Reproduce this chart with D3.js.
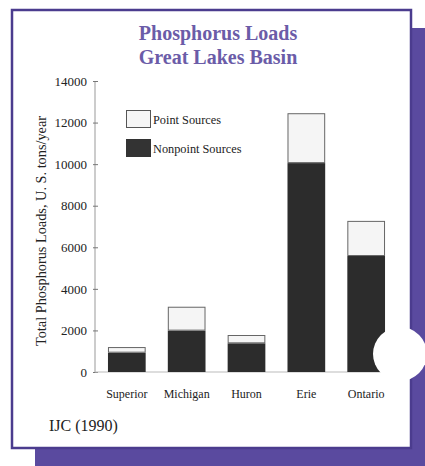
<!DOCTYPE html>
<html>
<head>
<meta charset="utf-8">
<script src="https://cdn.jsdelivr.net/npm/d3@7"></script>
<style>
  body { margin: 0; background: #fff; }
  svg { display: block; }
</style>
</head>
<body>
<svg id="chart" width="425" height="466"></svg>
<script>
  // data (U.S. tons/year)
  var lakes = ["Superior", "Michigan", "Huron", "Erie", "Ontario"];
  var nonpoint = [930, 1990, 1380, 10050, 5580];
  var point = [270, 1150, 400, 2400, 1690];
  var yTicks = [0, 2000, 4000, 6000, 8000, 10000, 12000, 14000];

  var svg = d3.select("#chart"),
      width = +svg.attr("width"),
      height = +svg.attr("height");

  var PURPLE = "#5a4a9f",
      TITLE = "#6b5ca8",
      SERIF = "'Liberation Serif', 'DejaVu Serif', serif";

  // card shadow + panel
  svg.append("rect").attr("x", 35).attr("y", 28).attr("width", 390).attr("height", 438)
      .attr("fill", PURPLE);
  svg.append("rect").attr("x", 12).attr("y", 10).attr("width", 399).attr("height", 438)
      .attr("fill", "#fff").attr("stroke", "#4b3c8e").attr("stroke-width", 2.5);

  // title
  var title = svg.append("text")
      .attr("text-anchor", "middle")
      .attr("font-family", SERIF)
      .attr("font-weight", "bold")
      .attr("font-size", 20)
      .attr("fill", TITLE);
  title.append("tspan").attr("x", 218).attr("y", 40).text("Phosphorus Loads");
  title.append("tspan").attr("x", 218).attr("y", 64).text("Great Lakes Basin");

  var x = d3.scaleBand()
      .domain(lakes)
      .range([96, 397])
      .paddingInner(0.37)
      .paddingOuter(0.2);

  var y = d3.scaleLinear()
      .domain([0, 14000])
      .range([372, 81]);

  var g = svg.append("g");

  // y axis
  var yAxis = g.append("g")
      .attr("transform", "translate(95,0)")
      .call(d3.axisLeft(y).tickValues(yTicks).tickSize(-4).tickPadding(8).tickFormat(d3.format("d")));
  yAxis.select(".domain").attr("stroke", "#999").attr("d", "M0," + y(14000) + "V" + y(0));
  yAxis.selectAll(".tick line").attr("stroke", "#777").attr("x1", -2).attr("x2", 3);
  yAxis.selectAll(".tick text")
      .attr("font-family", SERIF)
      .attr("font-size", 13)
      .attr("fill", "#222");

  // x baseline
  g.append("line")
      .attr("x1", 95).attr("x2", x("Ontario") + x.bandwidth())
      .attr("y1", y(0)).attr("y2", y(0))
      .attr("stroke", "#bbb");

  // bars
  var rows = lakes.map(function(d, i) {
    return { lake: d, nonpoint: nonpoint[i], point: point[i] };
  });

  g.selectAll(".np").data(rows).enter().append("rect")
      .attr("class", "np")
      .attr("x", function(d) { return x(d.lake); })
      .attr("y", function(d) { return y(d.nonpoint); })
      .attr("width", x.bandwidth())
      .attr("height", function(d) { return y(0) - y(d.nonpoint); })
      .attr("fill", "#2c2c2c");

  g.selectAll(".pt").data(rows).enter().append("rect")
      .attr("class", "pt")
      .attr("x", function(d) { return x(d.lake) + 0.5; })
      .attr("y", function(d) { return y(d.nonpoint + d.point) + 0.5; })
      .attr("width", x.bandwidth() - 1)
      .attr("height", function(d) { return y(d.nonpoint) - y(d.nonpoint + d.point) - 1; })
      .attr("fill", "#f5f5f5")
      .attr("stroke", "#666")
      .attr("stroke-width", 1);

  // x labels
  g.selectAll(".xl").data(lakes).enter().append("text")
      .attr("class", "xl")
      .attr("x", function(d) { return x(d) + x.bandwidth() / 2; })
      .attr("y", 398)
      .attr("text-anchor", "middle")
      .attr("font-family", SERIF)
      .attr("font-size", 12)
      .attr("fill", "#222")
      .text(function(d) { return d; });

  // y label
  svg.append("text")
      .attr("transform", "translate(46,231) rotate(-90)")
      .attr("text-anchor", "middle")
      .attr("font-family", SERIF)
      .attr("font-size", 14.3)
      .attr("fill", "#222")
      .text("Total Phosphorus Loads, U. S. tons/year");

  // legend
  var legend = [
    { label: "Point Sources", fill: "#f5f5f5", stroke: "#555", y: 110 },
    { label: "Nonpoint Sources", fill: "#333", stroke: "#333", y: 139 }
  ];
  var lg = svg.selectAll(".lg").data(legend).enter().append("g")
      .attr("transform", function(d) { return "translate(126," + d.y + ")"; });
  lg.append("rect").attr("x", 0.5).attr("y", 0.5).attr("width", 24).attr("height", 17)
      .attr("fill", function(d) { return d.fill; })
      .attr("stroke", function(d) { return d.stroke; });
  lg.append("text").attr("x", 27).attr("y", 14)
      .attr("font-family", SERIF)
      .attr("font-size", 12.3)
      .attr("fill", "#222")
      .text(function(d) { return d.label; });

  // source
  svg.append("text")
      .attr("x", 49).attr("y", 431)
      .attr("font-family", SERIF)
      .attr("font-size", 16)
      .attr("fill", "#222")
      .text("IJC (1990)");

  // punched hole
  svg.append("circle").attr("cx", 400).attr("cy", 354).attr("r", 27).attr("fill", "#fff");
</script>
</body>
</html>
